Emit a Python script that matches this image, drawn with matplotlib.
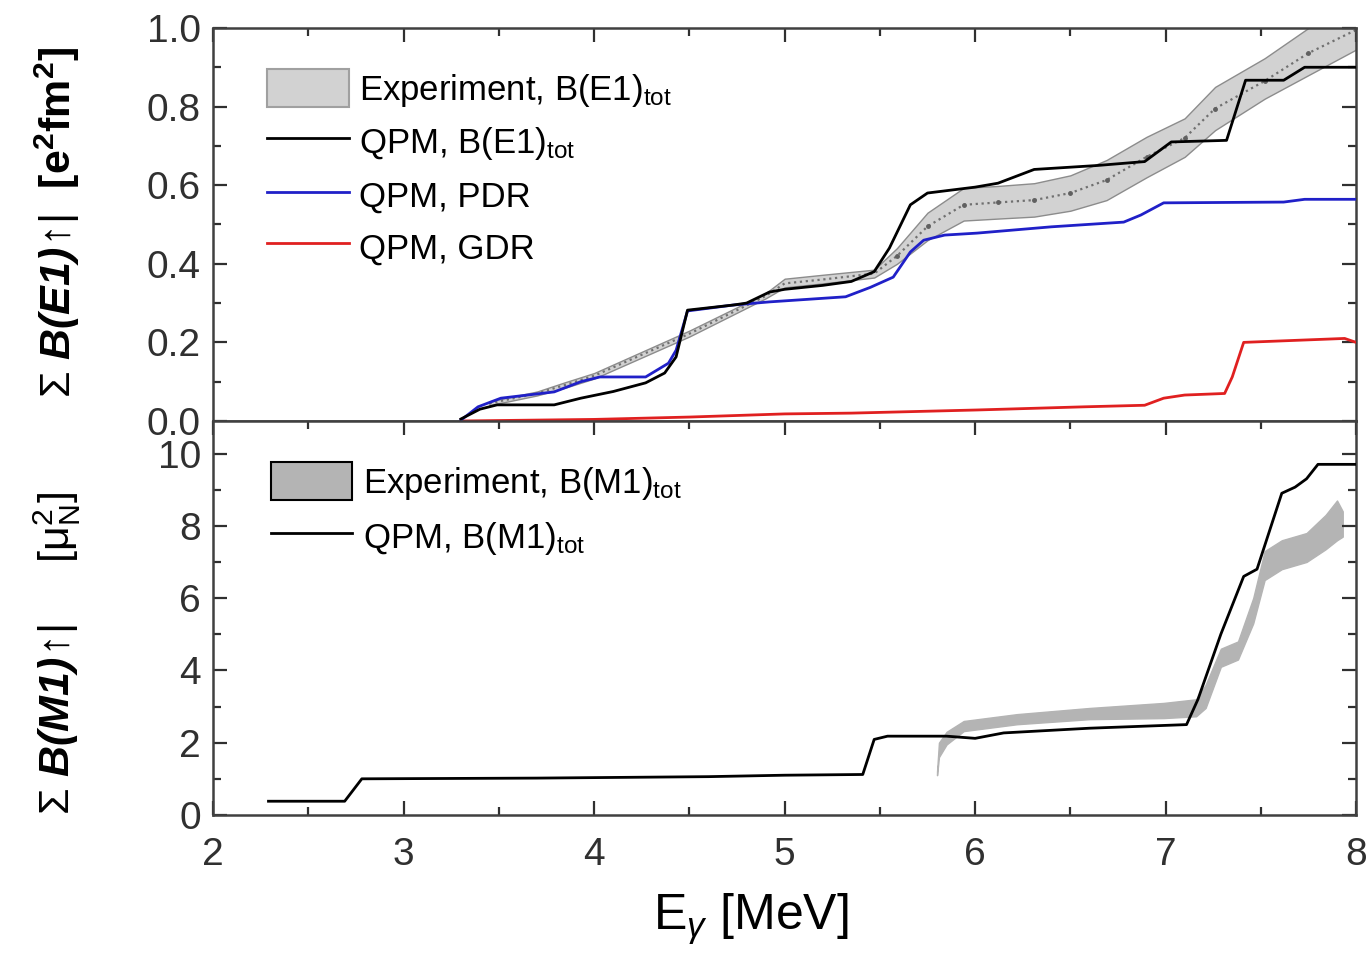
import numpy as np
import matplotlib
matplotlib.use('Agg')
import matplotlib.pyplot as plt
from matplotlib.patches import Patch
from matplotlib.lines import Line2D
from matplotlib.ticker import MultipleLocator

plt.rcParams['font.family'] = ['Liberation Sans', 'DejaVu Sans']
plt.rcParams['mathtext.fontset'] = 'custom'
plt.rcParams['mathtext.rm'] = 'Liberation Sans'
plt.rcParams['mathtext.it'] = 'Liberation Sans:italic'
plt.rcParams['mathtext.bf'] = 'Liberation Sans:bold'
try:
    plt.rcParams['mathtext.bfit'] = 'Liberation Sans:italic:bold'
except Exception:
    pass

# ---------------- Top panel: E1 ----------------
qpm_e1_E = [3.30, 3.40, 3.49, 3.79, 3.93, 4.10, 4.27, 4.37, 4.43, 4.49, 4.73, 4.80, 4.92,
            5.00, 5.20, 5.35, 5.47, 5.55, 5.66, 5.75, 6.00, 6.12, 6.31, 6.64, 6.89, 7.03,
            7.32, 7.42, 7.62, 7.73, 8.00]
qpm_e1_B = [0.005, 0.030, 0.041, 0.041, 0.058, 0.075, 0.097, 0.122, 0.163, 0.282, 0.295, 0.300, 0.328,
            0.335, 0.345, 0.355, 0.380, 0.440, 0.550, 0.580, 0.595, 0.605, 0.640, 0.650, 0.660, 0.710,
            0.714, 0.867, 0.867, 0.900, 0.900]

pdr_E = [3.30, 3.39, 3.51, 3.79, 3.93, 4.03, 4.27, 4.39, 4.43, 4.49, 4.73, 4.92, 5.32, 5.45,
         5.57, 5.66, 5.73, 5.84, 6.01, 6.40, 6.78, 6.87, 6.99, 7.62, 7.73, 8.00]
pdr_B = [0.002, 0.036, 0.058, 0.074, 0.100, 0.112, 0.112, 0.147, 0.180, 0.280, 0.295, 0.303, 0.316, 0.340,
         0.366, 0.430, 0.460, 0.473, 0.478, 0.494, 0.506, 0.524, 0.555, 0.557, 0.564, 0.564]

gdr_E = [3.30, 4.00, 4.50, 5.00, 5.35, 6.01, 6.57, 6.89, 6.99, 7.10, 7.31, 7.35, 7.41, 7.94, 8.00]
gdr_B = [0.000, 0.004, 0.010, 0.018, 0.020, 0.028, 0.036, 0.040, 0.058, 0.066, 0.070, 0.112, 0.200, 0.210, 0.200]

exp_e1_E = [3.45, 3.70, 3.85, 4.00, 4.50, 4.90, 5.00, 5.20, 5.47, 5.59, 5.75, 5.94, 6.12, 6.31,
            6.50, 6.69, 6.90, 7.10, 7.26, 7.52, 7.75, 8.00]
exp_e1_lo = [0.040, 0.065, 0.085, 0.108, 0.215, 0.312, 0.340, 0.350, 0.365, 0.400, 0.460, 0.510, 0.515, 0.520,
             0.535, 0.562, 0.620, 0.672, 0.740, 0.820, 0.880, 0.945]
exp_e1_hi = [0.050, 0.075, 0.099, 0.122, 0.230, 0.325, 0.362, 0.372, 0.385, 0.440, 0.530, 0.593, 0.598, 0.605,
             0.625, 0.664, 0.723, 0.770, 0.850, 0.923, 1.000, 1.050]
exp_e1_mid = [0.045, 0.070, 0.092, 0.115, 0.222, 0.318, 0.350, 0.360, 0.375, 0.420, 0.495, 0.550, 0.556, 0.562,
              0.580, 0.613, 0.672, 0.720, 0.795, 0.865, 0.936, 0.995]

# ---------------- Bottom panel: M1 ----------------
qpm_m1_E = [2.29, 2.69, 2.78, 3.70, 4.60, 5.00, 5.41, 5.47, 5.54, 5.85, 6.00, 6.15, 6.60, 7.11,
            7.17, 7.29, 7.41, 7.48, 7.61, 7.68, 7.74, 7.80, 8.00]
qpm_m1_B = [0.38, 0.38, 1.00, 1.02, 1.06, 1.10, 1.12, 2.09, 2.18, 2.18, 2.12, 2.27, 2.40, 2.50,
            3.20, 5.00, 6.60, 6.80, 8.90, 9.07, 9.30, 9.70, 9.70]

exp_m1_E = [5.80, 5.81, 5.85, 5.94, 6.22, 6.60, 6.99, 7.16, 7.21, 7.29, 7.38, 7.46, 7.52, 7.61,
            7.74, 7.84, 7.90, 7.93]
exp_m1_lo = [1.10, 1.60, 1.95, 2.32, 2.51, 2.65, 2.68, 2.73, 2.96, 4.10, 4.30, 5.30, 6.50, 6.80,
             7.00, 7.35, 7.60, 7.70]
exp_m1_hi = [1.20, 2.00, 2.30, 2.60, 2.79, 2.96, 3.10, 3.20, 3.60, 4.60, 4.80, 6.00, 7.30, 7.60,
             7.80, 8.30, 8.70, 8.40]

fig = plt.figure(figsize=(13.67, 9.64), dpi=100)
L, W = 0.156, 0.836
ax1 = fig.add_axes([L, 0.5633, W, 0.4077])
ax2 = fig.add_axes([L, 0.1546, W, 0.4087])

spine_col = '#404040'
lw = 2.0

# top panel drawing
ax1.fill_between(exp_e1_E, exp_e1_lo, exp_e1_hi, facecolor='#d2d2d2', edgecolor='#8c8c8c',
                 linewidth=1.0, zorder=1)
ax1.plot(exp_e1_E, exp_e1_mid, linestyle=':', color='#707070', lw=1.6, zorder=2)
ax1.plot(exp_e1_E[9:], exp_e1_mid[9:], linestyle='none', marker='o', ms=2.5, color='#606060', zorder=2)
ax1.plot(gdr_E, gdr_B, color='#e02020', lw=lw, zorder=3)
ax1.plot(pdr_E, pdr_B, color='#2020c8', lw=lw, zorder=3)
ax1.plot(qpm_e1_E, qpm_e1_B, color='black', lw=lw, zorder=4)

ax1.set_xlim(2, 8)
ax1.set_ylim(0, 1.0)
ax1.yaxis.set_major_locator(MultipleLocator(0.2))
ax1.yaxis.set_minor_locator(MultipleLocator(0.1))
ax1.xaxis.set_major_locator(MultipleLocator(1))
ax1.xaxis.set_minor_locator(MultipleLocator(0.5))
ax1.yaxis.set_major_formatter(matplotlib.ticker.FormatStrFormatter('%.1f'))
ax1.tick_params(axis='both', which='both', direction='in', top=True, right=True, bottom=False,
                labelbottom=False, labelsize=28, colors='#303030', width=1.6, pad=9)
ax1.tick_params(which='major', length=10)
ax1.tick_params(which='minor', length=6)

h1 = [Patch(facecolor='#d2d2d2', edgecolor='#a0a0a0', linewidth=1.5),
      Line2D([], [], color='black', lw=2),
      Line2D([], [], color='#2020c8', lw=2),
      Line2D([], [], color='#e02020', lw=2)]
l1 = [r'Experiment, B(E1)$_{\mathrm{tot}}$', r'QPM, B(E1)$_{\mathrm{tot}}$', 'QPM, PDR', 'QPM, GDR']
ax1.legend(h1, l1, loc='upper left', bbox_to_anchor=(0.035, 0.93), frameon=False, fontsize=25,
           handlelength=2.35, handleheight=1.3, handletextpad=0.3, labelspacing=0.4, borderaxespad=0.0)

# bottom panel drawing
ax2.fill_between(exp_m1_E, exp_m1_lo, exp_m1_hi, facecolor='#b4b4b4', edgecolor='#b4b4b4',
                 linewidth=1.0, zorder=1)
ax2.plot(qpm_m1_E, qpm_m1_B, color='black', lw=lw, zorder=3)

ax2.set_xlim(2, 8)
ax2.set_ylim(0, 10.9)
ax2.yaxis.set_major_locator(MultipleLocator(2))
ax2.yaxis.set_minor_locator(MultipleLocator(1))
ax2.xaxis.set_major_locator(MultipleLocator(1))
ax2.xaxis.set_minor_locator(MultipleLocator(0.5))
ax2.tick_params(axis='both', which='both', direction='in', top=True, right=True,
                labelsize=28, colors='#303030', width=1.6)
ax2.tick_params(axis='y', pad=9)
ax2.tick_params(axis='x', pad=16)
ax2.tick_params(which='major', length=10)
ax2.tick_params(which='minor', length=6)

h2 = [Patch(facecolor='#b4b4b4', edgecolor='black', linewidth=1.5),
      Line2D([], [], color='black', lw=2)]
l2 = [r'Experiment, B(M1)$_{\mathrm{tot}}$', r'QPM, B(M1)$_{\mathrm{tot}}$']
ax2.legend(h2, l2, loc='upper left', bbox_to_anchor=(0.038, 0.93), frameon=False, fontsize=25,
           handlelength=2.35, handleheight=1.3, handletextpad=0.3, labelspacing=0.45, borderaxespad=0.0)

for ax in (ax1, ax2):
    for s in ax.spines.values():
        s.set_color(spine_col)
        s.set_linewidth(1.8)

fig.text(0.042, 0.769, r'$\Sigma\ \mathbfit{B(E1)}\!\uparrow\!|$  $\mathbf{[e^{2}fm^{2}]}$',
         rotation=90, ha='center', va='center', fontsize=31)
fig.text(0.042, 0.322, r'$\Sigma\ \mathbfit{B(M1)}\!\uparrow\!|$     $\mathrm{[\mu_{N}^{2}]}$',
         rotation=90, ha='center', va='center', fontsize=31)
fig.text(0.549, 0.046, r'E$_{\gamma}$ [MeV]', ha='center', va='center', fontsize=36)

fig.savefig('out.png', dpi=100)
